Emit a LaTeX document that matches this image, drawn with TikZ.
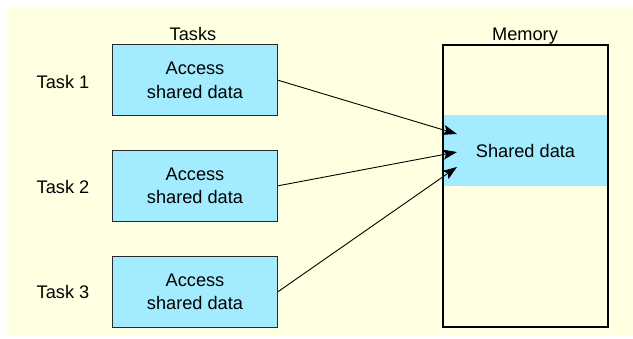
\documentclass[tikz,border=0pt]{standalone}
\usepackage{fontspec}
\setmainfont{Liberation Sans}
\usetikzlibrary{arrows.meta}
\definecolor{paper}{RGB}{255,255,226}
\definecolor{datacyan}{RGB}{163,236,255}
\definecolor{boxline}{RGB}{40,40,40}
\tikzset{
  lbl/.style={font=\fontsize{18.2}{23.5}\selectfont, inner sep=0pt, align=center},
  taskbox/.style={draw=boxline, line width=1pt, fill=datacyan,
    minimum width=165pt, minimum height=71pt, inner sep=0pt,
    font=\fontsize{18.2}{23.5}\selectfont, align=center},
  conn/.style={draw=black, line width=0.9pt,
    -{Stealth[length=14pt, width=10pt, inset=3pt]}},
}
\begin{document}
\begin{tikzpicture}[x=1pt, y=-1pt]
  \useasboundingbox (0,0) rectangle (633,338);
  % page background
  \fill[paper] (7,8) rectangle (633,336);

  % column headings
  \node[lbl, anchor=base] (tasks) at (193,40) {Tasks};
  \node[lbl, anchor=base] (memory) at (525,40) {Memory};

  % task rows
  \node[lbl] (t1) at (63,81.5) {Task 1};
  \node[lbl] (t2) at (63,186.5) {Task 2};
  \node[lbl] (t3) at (63,292.3) {Task 3};

  \node[taskbox] (b1) at (195,80.2) {Access\\shared data};
  \node[taskbox] (b2) at (195,185.8) {Access\\shared data};
  \node[taskbox] (b3) at (195,291.7) {Access\\shared data};

  % memory block with the shared region
  \node[fill=datacyan, minimum width=163pt, minimum height=71pt, inner sep=0pt,
        font=\fontsize{18.2}{23.5}\selectfont] (shared) at (525.5,150.5) {Shared data};
  \node[draw=black, line width=2pt, minimum width=165pt, minimum height=282pt,
        inner sep=0pt] (mem) at (525.5,185.8) {};

  % arrow targets on the shared region
  \coordinate (e1) at (457,134);
  \coordinate (e2) at (457,152);
  \coordinate (e3) at (457,167);

  \draw[conn] (b1.east) -- (e1);
  \draw[conn] (b2.east) -- (e2);
  \draw[conn] (b3.east) -- (e3);
\end{tikzpicture}
\end{document}
